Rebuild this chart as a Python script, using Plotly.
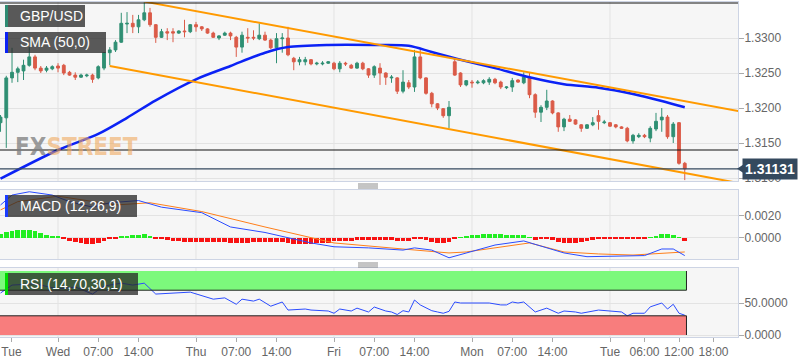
import plotly.graph_objects as go

# ---------------- data (hour index: 0 = Wed 00:00, trading hours only) ----------------
hours = list(range(-10, 110))

opens = [1.3179, 1.3186, 1.3243, 1.3251, 1.3253, 1.3261, 1.3273, 1.3257, 1.3254, 1.3256,
         1.3260, 1.3261, 1.3251, 1.3247, 1.3244, 1.3246, 1.3247, 1.3243, 1.3257, 1.3279,
         1.3283, 1.3294, 1.3320, 1.3321, 1.3316, 1.3326, 1.3336, 1.3319, 1.3301, 1.3309,
         1.3309, 1.3307, 1.3310, 1.3309, 1.3319, 1.3316, 1.3313, 1.3307, 1.3300, 1.3304,
         1.3307, 1.3301, 1.3287, 1.3301, 1.3301, 1.3299, 1.3304, 1.3297, 1.3286, 1.3299,
         1.3300, 1.3271, 1.3266, 1.3266, 1.3269, 1.3263, 1.3263, 1.3264, 1.3264, 1.3256,
         1.3264, 1.3261, 1.3257, 1.3264, 1.3256, 1.3247, 1.3257, 1.3250, 1.3243, 1.3243,
         1.3224, 1.3236, 1.3230, 1.3273, 1.3243, 1.3221, 1.3206, 1.3199, 1.3189, 1.3266,
         1.3250, 1.3233, 1.3237, 1.3236, 1.3236, 1.3237, 1.3241, 1.3237, 1.3229, 1.3230,
         1.3240, 1.3236, 1.3244, 1.3219, 1.3194, 1.3201, 1.3210, 1.3193, 1.3173, 1.3184,
         1.3183, 1.3176, 1.3171, 1.3176, 1.3189, 1.3179, 1.3179, 1.3176, 1.3173, 1.3171,
         1.3153, 1.3159, 1.3161, 1.3157, 1.3170, 1.3183, 1.3187, 1.3159, 1.3179, 1.3121]
highs = [1.3190, 1.3246, 1.3286, 1.3259, 1.3269, 1.3287, 1.3276, 1.3260, 1.3260, 1.3261,
         1.3264, 1.3263, 1.3253, 1.3251, 1.3249, 1.3249, 1.3249, 1.3261, 1.3280, 1.3287,
         1.3297, 1.3336, 1.3337, 1.3333, 1.3333, 1.3351, 1.3343, 1.3320, 1.3313, 1.3314,
         1.3314, 1.3311, 1.3326, 1.3320, 1.3323, 1.3317, 1.3314, 1.3309, 1.3304, 1.3309,
         1.3309, 1.3303, 1.3309, 1.3314, 1.3311, 1.3321, 1.3309, 1.3299, 1.3307, 1.3307,
         1.3316, 1.3273, 1.3273, 1.3273, 1.3270, 1.3266, 1.3267, 1.3267, 1.3266, 1.3267,
         1.3266, 1.3263, 1.3266, 1.3266, 1.3257, 1.3261, 1.3264, 1.3251, 1.3247, 1.3244,
         1.3254, 1.3240, 1.3283, 1.3286, 1.3244, 1.3223, 1.3207, 1.3200, 1.3210, 1.3271,
         1.3251, 1.3240, 1.3240, 1.3240, 1.3241, 1.3244, 1.3243, 1.3239, 1.3231, 1.3243,
         1.3241, 1.3251, 1.3251, 1.3221, 1.3204, 1.3226, 1.3211, 1.3194, 1.3186, 1.3190,
         1.3184, 1.3177, 1.3177, 1.3187, 1.3197, 1.3183, 1.3180, 1.3177, 1.3174, 1.3173,
         1.3163, 1.3164, 1.3163, 1.3174, 1.3193, 1.3200, 1.3190, 1.3180, 1.3180, 1.3123]
lows = [1.3166, 1.3143, 1.3236, 1.3237, 1.3240, 1.3259, 1.3254, 1.3250, 1.3251, 1.3254,
        1.3251, 1.3247, 1.3246, 1.3240, 1.3243, 1.3244, 1.3236, 1.3241, 1.3254, 1.3261,
        1.3280, 1.3293, 1.3307, 1.3307, 1.3307, 1.3324, 1.3316, 1.3293, 1.3300, 1.3297,
        1.3294, 1.3306, 1.3301, 1.3307, 1.3309, 1.3310, 1.3306, 1.3300, 1.3297, 1.3303,
        1.3297, 1.3273, 1.3279, 1.3293, 1.3297, 1.3297, 1.3296, 1.3284, 1.3264, 1.3279,
        1.3274, 1.3254, 1.3261, 1.3261, 1.3261, 1.3261, 1.3261, 1.3263, 1.3254, 1.3251,
        1.3260, 1.3256, 1.3256, 1.3254, 1.3243, 1.3243, 1.3233, 1.3233, 1.3236, 1.3220,
        1.3221, 1.3227, 1.3223, 1.3241, 1.3219, 1.3201, 1.3197, 1.3186, 1.3171, 1.3246,
        1.3230, 1.3231, 1.3229, 1.3234, 1.3234, 1.3233, 1.3234, 1.3227, 1.3227, 1.3223,
        1.3236, 1.3234, 1.3214, 1.3186, 1.3180, 1.3197, 1.3191, 1.3166, 1.3167, 1.3180,
        1.3176, 1.3166, 1.3170, 1.3174, 1.3169, 1.3177, 1.3173, 1.3171, 1.3170, 1.3151,
        1.3149, 1.3157, 1.3157, 1.3151, 1.3167, 1.3166, 1.3156, 1.3150, 1.3119, 1.3097]
closes = [1.3187, 1.3243, 1.3251, 1.3256, 1.3261, 1.3273, 1.3257, 1.3253, 1.3257, 1.3259,
          1.3257, 1.3250, 1.3247, 1.3244, 1.3247, 1.3247, 1.3241, 1.3259, 1.3279, 1.3283,
          1.3294, 1.3321, 1.3321, 1.3316, 1.3326, 1.3336, 1.3319, 1.3301, 1.3309, 1.3307,
          1.3307, 1.3310, 1.3309, 1.3319, 1.3316, 1.3313, 1.3307, 1.3301, 1.3303, 1.3307,
          1.3303, 1.3287, 1.3304, 1.3300, 1.3300, 1.3304, 1.3297, 1.3286, 1.3299, 1.3300,
          1.3276, 1.3266, 1.3269, 1.3269, 1.3263, 1.3264, 1.3264, 1.3266, 1.3256, 1.3264,
          1.3263, 1.3257, 1.3264, 1.3256, 1.3247, 1.3259, 1.3250, 1.3244, 1.3244, 1.3224,
          1.3237, 1.3230, 1.3273, 1.3243, 1.3221, 1.3206, 1.3200, 1.3189, 1.3201, 1.3247,
          1.3233, 1.3239, 1.3236, 1.3237, 1.3239, 1.3241, 1.3236, 1.3230, 1.3230, 1.3239,
          1.3237, 1.3244, 1.3219, 1.3194, 1.3201, 1.3210, 1.3193, 1.3173, 1.3184, 1.3181,
          1.3177, 1.3171, 1.3176, 1.3179, 1.3181, 1.3180, 1.3174, 1.3173, 1.3171, 1.3153,
          1.3161, 1.3161, 1.3159, 1.3171, 1.3181, 1.3187, 1.3159, 1.3177, 1.3121, 1.31131]

sma_h = [-10, 0, 7, 12, 17, 24, 30, 36, 40, 47, 55, 61, 65, 70, 76, 82, 88, 94, 100, 105, 109]
sma_v = [1.3099, 1.3140, 1.3163, 1.3186, 1.3211, 1.3241, 1.3260, 1.3279, 1.3287, 1.3290,
         1.3290, 1.3289, 1.3280, 1.3269, 1.3257, 1.3244, 1.3234, 1.3229, 1.3220, 1.3210, 1.3201]

channel_upper_h = [15, 118.3]
channel_upper_v = [1.3352, 1.31957]
channel_lower_h = [9, 118.3]
channel_lower_v = [1.3260, 1.30929]

level_lines = [1.3350, 1.3140]
last_price = 1.31131

macd_h = [-10, -8, -5, -1, 2, 6, 9, 14, 18, 25, 30, 36, 44, 48, 54, 60, 62, 65, 68, 71,
          76, 81, 84, 88, 92, 100, 102, 105, 107, 109]
macd_v = [0.0030, 0.0039, 0.0042, 0.0039, 0.0033, 0.0028, 0.0032, 0.0034, 0.0028, 0.0023,
          0.0010, 0.0005, -0.00045, -0.0008, -0.0009, -0.0011, -0.0009, -0.0011, -0.0018, -0.00136,
          -0.00064, -0.00027, -0.00073, -0.00136, -0.0017, -0.0016, -0.0016, -0.0010, -0.0010, -0.0016]
signal_h = [-10, -7, 0, 6, 10, 16, 25, 36, 44, 48, 60, 65, 68, 71, 82, 88, 94, 100, 104, 109]
signal_v = [0.00255, 0.0033, 0.0038, 0.0033, 0.0030, 0.0032, 0.0024, 0.0010, 0.0, -0.00045,
            -0.0010, -0.0012, -0.00136, -0.00127, -0.00045, -0.00127, -0.00145, -0.00155, -0.00145, -0.00127]
hist_v = [0.00036, 0.00054, 0.00063, 0.00072, 0.00072, 0.00072, 0.00063, 0.00045, 0.00027, 0.00018,
          0.00009, -0.00009, -0.00027, -0.00036, -0.00045, -0.00054, -0.00054, -0.00045, -0.00027, -0.00009,
          -0.00005, 0.00009, 0.00018, 0.00027, 0.00027, 0.00036, 0.00009, -0.00005, -0.00009, -0.00018,
          -0.00027, -0.00027, -0.00036, -0.00036, -0.00036, -0.00036, -0.00036, -0.00036, -0.00036, -0.00036,
          -0.00045, -0.00045, -0.00045, -0.00045, -0.00036, -0.00036, -0.00036, -0.00036, -0.00036, -0.00036,
          -0.00045, -0.00054, -0.00054, -0.00054, -0.00054, -0.00045, -0.00045, -0.00045, -0.00027, -0.00027,
          -0.00027, -0.00027, -0.00018, -0.00018, -0.00018, -0.00018, -0.00018, -0.00018, -0.00018, -0.00027,
          -0.00027, -0.00027, -0.00005, -0.00005, -0.00018, -0.00036, -0.00045, -0.00045, -0.00036, -0.00005,
          0.00005, 0.00018, 0.00027, 0.00027, 0.00036, 0.00036, 0.00036, 0.00036, 0.00027, 0.00027,
          0.00027, 0.00027, 0.00005, -0.00018, -0.00009, -0.00009, -0.00018, -0.00036, -0.00045, -0.00045,
          -0.00045, -0.00036, -0.00027, -0.00018, -0.00009, -0.00009, -0.00005, -0.00005, -0.00005, -0.00005,
          -0.00005, -0.00005, -0.00005, 0.00005, 0.00018, 0.00036, 0.00036, 0.00027, 0.00005, -0.00027]

rsi_h = [-10, -8, -4, 0, 3, 6, 8, 11, 13, 15, 17, 22, 23, 27, 29, 31, 32, 34, 35, 37,
         39, 40, 43, 44, 47, 48, 49, 51, 52, 54, 55, 57, 58, 59, 60, 61, 62, 63, 64, 65,
         66, 67, 68, 69, 70, 71, 75, 77, 78, 79, 80, 81, 83, 85, 87, 88, 90, 91, 94, 98,
         99, 100, 102, 103, 105, 106, 107, 108, 109]
rsi_v = [65.6, 78, 80, 72, 75, 64, 76.5, 81, 78, 81, 64, 65.6, 67, 56, 58, 48, 56, 53, 56, 45,
         51.6, 39, 40.6, 39, 37.5, 34, 40.6, 37.5, 42, 36, 43.7, 37.5, 36, 32, 38, 36, 54.7, 47, 42, 38,
         36, 34, 37, 51.6, 50, 50, 50, 47, 47, 51.6, 50, 51.6, 36, 42, 34, 37.5, 36, 34, 39, 36,
         30, 34, 34, 44, 50, 40.6, 48, 34, 31]
rsi_upper_band = [70, 100]
rsi_lower_band = [0, 30]

tick_hours = [-8.1, 0, 7, 14, 24, 31, 38, 48, 55, 62, 72, 79, 86, 96, 102, 108, 114]
tick_labels = ["Tue", "Wed", "07:00", "14:00", "Thu", "07:00", "14:00", "Fri", "07:00", "14:00",
               "Mon", "07:00", "14:00", "Tue", "06:00", "12:00", "18:00"]
day_starts = [0, 24, 48, 72, 96]

price_ticks = [1.3100, 1.3150, 1.3200, 1.3250, 1.3300]
macd_ticks = [0.0, 0.0020]
rsi_ticks = [0, 50]

# ---------------- layout geometry ----------------
W, H = 808, 363
ML, MR, MT, MB = 0, 70, 2, 26
PW = W - ML - MR
PH = H - MT - MB

def px_x(p):
    return (p - ML) / PW

def px_y(p):
    return (H - MB - p) / PH

dom_main = [px_y(181), 1.0]
dom_macd = [px_y(259), px_y(190)]
dom_rsi = [0.0, px_y(268)]

x_range = [-10.09, 118.26]
main_range = [1.309571, 1.335143]
macd_range = [-0.00191, 0.00436]
rsi_range = [-3.1, 104.7]

GREEN = "#2f8f73"
RED = "#db5b48"
FONT = "Liberation Sans, Arial, sans-serif"
GRID = "#e3e3e3"
BORDER = "#cdd4e4"

fig = go.Figure()

fig.add_trace(go.Candlestick(
    x=hours, open=opens, high=highs, low=lows, close=closes,
    xaxis="x", yaxis="y", whiskerwidth=0,
    increasing=dict(fillcolor=GREEN, line=dict(color=GREEN, width=1)),
    decreasing=dict(fillcolor=RED, line=dict(color=RED, width=1)),
    showlegend=False, hoverinfo="skip"))

fig.add_trace(go.Scatter(x=sma_h, y=sma_v, mode="lines", xaxis="x", yaxis="y",
                         line=dict(color="#0b22f5", width=2.5, shape="spline", smoothing=0.8),
                         showlegend=False, hoverinfo="skip"))
fig.add_trace(go.Scatter(x=channel_upper_h, y=channel_upper_v, mode="lines", xaxis="x", yaxis="y",
                         line=dict(color="#ff9a00", width=2), showlegend=False, hoverinfo="skip"))
fig.add_trace(go.Scatter(x=channel_lower_h, y=channel_lower_v, mode="lines", xaxis="x", yaxis="y",
                         line=dict(color="#ff9a00", width=2), showlegend=False, hoverinfo="skip"))

# MACD
hist_colors = ["#22ee22" if v > 0 else "#f81212" for v in hist_v]
fig.add_trace(go.Bar(x=hours, y=hist_v, xaxis="x2", yaxis="y2", marker=dict(color=hist_colors, line=dict(width=0)),
                     width=0.8, showlegend=False, hoverinfo="skip"))
fig.add_trace(go.Scatter(x=signal_h, y=signal_v, mode="lines", xaxis="x2", yaxis="y2",
                         line=dict(color="#ff7f1a", width=1), showlegend=False, hoverinfo="skip"))
fig.add_trace(go.Scatter(x=macd_h, y=macd_v, mode="lines", xaxis="x2", yaxis="y2",
                         line=dict(color="#2b4cff", width=1), showlegend=False, hoverinfo="skip"))

# RSI
fig.add_trace(go.Scatter(x=rsi_h, y=rsi_v, mode="lines", xaxis="x3", yaxis="y3",
                         line=dict(color="#2b4cff", width=1), showlegend=False, hoverinfo="skip"))

shapes = []
# day grid lines
for yref in ["y domain", "y2 domain", "y3 domain"]:
    xr = {"y domain": "x", "y2 domain": "x2", "y3 domain": "x3"}[yref]
    for d in day_starts:
        shapes.append(dict(type="line", xref=xr, yref=yref, x0=d, x1=d, y0=0, y1=1,
                           line=dict(color=GRID, width=1), layer="below"))

# RSI bands
band_end = hours[-1] + 0.3
shapes.append(dict(type="rect", xref="x3", yref="y3", x0=x_range[0], x1=band_end,
                   y0=rsi_upper_band[0], y1=rsi_upper_band[1], fillcolor="#7cf97c",
                   line=dict(width=0), layer="below"))
shapes.append(dict(type="rect", xref="x3", yref="y3", x0=x_range[0], x1=band_end,
                   y0=rsi_lower_band[0], y1=rsi_lower_band[1], fillcolor="#f87d7d",
                   line=dict(width=0), layer="below"))
for y0, y1, edge in [(rsi_upper_band[0], rsi_upper_band[1], rsi_upper_band[0]),
                     (rsi_lower_band[0], rsi_lower_band[1], rsi_lower_band[1])]:
    shapes.append(dict(type="line", xref="x3", yref="y3", x0=x_range[0], x1=band_end, y0=edge, y1=edge,
                       line=dict(color="#222", width=1)))
    shapes.append(dict(type="line", xref="x3", yref="y3", x0=band_end, x1=band_end, y0=y0, y1=y1,
                       line=dict(color="#222", width=1)))

# horizontal price levels
for lv in level_lines:
    shapes.append(dict(type="line", xref="x domain", yref="y", x0=0, x1=1, y0=lv, y1=lv,
                       line=dict(color="#111", width=1.2)))
shapes.append(dict(type="line", xref="x domain", yref="y", x0=0, x1=1, y0=last_price, y1=last_price,
                   line=dict(color="#34495e", width=1.2)))

# price label arrow
def price_to_paper(v):
    f = (v - main_range[0]) / (main_range[1] - main_range[0])
    return dom_main[0] + f * (dom_main[1] - dom_main[0])

lp = price_to_paper(last_price)
dy = 4 / PH
shapes.append(dict(type="path", xref="paper", yref="paper",
                   path=f"M {px_x(737)},{lp} L {px_x(743)},{lp + dy} L {px_x(743)},{lp - dy} Z",
                   fillcolor="#34495e", line=dict(width=0)))

# label boxes
boxes = [
    ("GBP/USD", 5, 85, 5, 27, "#2e8b72"),
    ("SMA (50,0)", 5, 106, 32, 53, "#0b22f5"),
    ("MACD (12,26,9)", 5, 137, 195, 217, "#1a3cff"),
    ("RSI (14,70,30,1)", 5, 138, 273, 295, "#00dd00"),
]
annotations = []
for text, x0, x1, y0, y1, col in boxes:
    shapes.append(dict(type="rect", xref="paper", yref="paper", x0=px_x(x0), x1=px_x(x1),
                       y0=px_y(y1), y1=px_y(y0), fillcolor="rgba(40,40,40,0.76)", line=dict(width=0)))
    shapes.append(dict(type="rect", xref="paper", yref="paper", x0=px_x(x0), x1=px_x(x0 + 3),
                       y0=px_y(y1), y1=px_y(y0), fillcolor=col, line=dict(width=0)))
    annotations.append(dict(xref="paper", yref="paper", x=px_x(x0 + 13), y=px_y((y0 + y1) / 2),
                            xanchor="left", yanchor="middle", showarrow=False, text=text,
                            font=dict(family=FONT, size=14, color="white")))

# grip icons between panels
for gy in (184, 263):
    for k in range(3):
        yy = px_y(gy + 2 * k)
        shapes.append(dict(type="line", xref="paper", yref="paper", x0=px_x(358), x1=px_x(378),
                           y0=yy, y1=yy, line=dict(color="#8a8a8a", width=1)))

# watermark
annotations.append(dict(xref="paper", yref="paper", x=px_x(13), y=px_y(147), xanchor="left",
                        yanchor="middle", showarrow=False,
                        text="<b><span style='color:rgba(125,125,125,0.75)'>FX</span>"
                             "<span style='color:rgba(240,170,95,0.62)'>STREET</span></b>",
                        font=dict(family="Liberation Sans Narrow, Arial Narrow, DejaVu Sans Condensed, sans-serif",
                                  size=24)))

# last price label
annotations.append(dict(xref="paper", yref="y", x=px_x(742), y=last_price, xanchor="left",
                        yanchor="middle", showarrow=False, text=f"<b>{last_price:.5f}</b>",
                        bgcolor="#34495e", borderpad=2,
                        font=dict(family=FONT, size=14, color="white")))

axis_common = dict(showline=True, linecolor=BORDER, linewidth=1, mirror=True, zeroline=False)
xcommon = dict(axis_common, range=x_range, showgrid=False, fixedrange=True)
ycommon = dict(axis_common, side="right", showgrid=True, gridcolor=GRID, gridwidth=1,
               ticks="outside", ticklen=5, tickcolor="#aaa", tickformat=".4f",
               ticklabelstandoff=-2,
               tickfont=dict(family=FONT, size=12, color="#666"))

fig.update_layout(
    width=W, height=H, margin=dict(l=ML, r=MR, t=MT, b=MB, pad=0),
    paper_bgcolor="white", plot_bgcolor="#f6f6f6",
    font=dict(family=FONT, size=12, color="#666"),
    showlegend=False, bargap=0,
    xaxis=dict(xcommon, anchor="y", showticklabels=False, ticks="", rangeslider=dict(visible=False)),
    xaxis2=dict(xcommon, anchor="y2", matches="x", showticklabels=False, ticks=""),
    xaxis3=dict(xcommon, anchor="y3", matches="x", tickvals=tick_hours, ticktext=tick_labels,
                ticks="outside", ticklen=4, tickcolor="#aaa", ticklabeloverflow="allow",
                tickfont=dict(family=FONT, size=12, color="#666")),
    yaxis=dict(ycommon, anchor="x", domain=dom_main, range=main_range, tickvals=price_ticks),
    yaxis2=dict(ycommon, anchor="x2", domain=dom_macd, range=macd_range, tickvals=macd_ticks),
    yaxis3=dict(ycommon, anchor="x3", domain=dom_rsi, range=rsi_range, tickvals=rsi_ticks),
    shapes=shapes, annotations=annotations,
)

fig.write_html("out.html", config={"displayModeBar": False},
               post_script="document.body.style.margin='0';document.body.style.overflow='hidden';")
